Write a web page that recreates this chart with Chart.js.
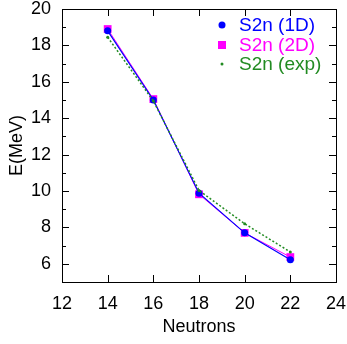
<!DOCTYPE html>
<html lang="en">
<head>
<meta charset="UTF-8">
<title>S2n vs Neutrons</title>
<script src="https://cdn.jsdelivr.net/npm/chart.js"></script>
<style>
  html, body { margin: 0; padding: 0; background: #fff; }
  #wrap { width: 347px; height: 344px; }
</style>
</head>
<body>
<div id="wrap"><canvas id="c"></canvas></div>
<script>
// data
const neutrons = [14, 16, 18, 20, 22];
const s2n1D = [18.8, 15.0, 9.88, 7.7, 6.22];
const s2n2D = [18.9, 15.05, 9.82, 7.7, 6.37];
const s2nExp = [18.45, 14.95, 10.03, 8.2, 6.65];
const seriesNames = ['S2n (1D)', 'S2n (2D)', 'S2n (exp)'];
const seriesColors = ['#0000ff', '#ff00ff', '#228b22'];

const FONT = 'Liberation Sans, Arial, sans-serif';
const FS = 18;

function pts(ys) {
  return neutrons.map((x, i) => ({ x: x, y: ys[i] }));
}

// gnuplot-like frame with ticks pointing inward
const framePlugin = {
  id: 'frame',
  afterDraw(chart) {
    const ctx = chart.ctx;
    const a = chart.chartArea;
    const xs = chart.scales.x, ys = chart.scales.y;
    ctx.save();
    ctx.strokeStyle = '#000';
    ctx.lineWidth = 1;
    ctx.strokeRect(a.left + 0.5, a.top + 0.5, a.right - a.left, a.bottom - a.top);
    ctx.beginPath();
    xs.ticks.forEach(t => {
      const px = Math.round(xs.getPixelForValue(t.value)) + 0.5;
      ctx.moveTo(px, a.bottom); ctx.lineTo(px, a.bottom - 7);
      ctx.moveTo(px, a.top); ctx.lineTo(px, a.top + 7);
    });
    ys.ticks.forEach(t => {
      const len = t.value % 2 === 0 ? 7 : 4;
      const py = Math.round(ys.getPixelForValue(t.value)) + 0.5;
      ctx.moveTo(a.left, py); ctx.lineTo(a.left + len, py);
      ctx.moveTo(a.right, py); ctx.lineTo(a.right - len, py);
    });
    ctx.stroke();

    // legend inside the plot, top right
    ctx.font = '19px ' + FONT;
    ctx.textBaseline = 'middle';
    const lx = 222, tx = 239, ly = [25, 45, 64];
    seriesNames.forEach((name, i) => {
      ctx.fillStyle = seriesColors[i];
      if (i === 0) {
        ctx.beginPath(); ctx.arc(lx, ly[i], 3.5, 0, Math.PI * 2); ctx.fill();
      } else if (i === 1) {
        ctx.fillRect(lx - 4, ly[i] - 4, 8, 8);
      } else {
        ctx.beginPath(); ctx.arc(lx, ly[i], 1.5, 0, Math.PI * 2); ctx.fill();
      }
      ctx.fillText(name, tx, ly[i] + 1);
    });
    ctx.restore();
  }
};

new Chart(document.getElementById('c'), {
  type: 'scatter',
  data: {
    datasets: [
      {
        label: seriesNames[2], data: pts(s2nExp), showLine: true,
        borderColor: seriesColors[2], backgroundColor: seriesColors[2],
        borderWidth: 1.5, borderDash: [2, 2], pointRadius: 1.5, pointBorderWidth: 0
      },
      {
        label: seriesNames[0], data: pts(s2n1D), showLine: true,
        borderColor: seriesColors[0], backgroundColor: seriesColors[0],
        borderWidth: 1.2, pointRadius: 3.5, pointBorderWidth: 0
      },
      {
        label: seriesNames[1], data: pts(s2n2D), showLine: true,
        borderColor: seriesColors[1], backgroundColor: seriesColors[1],
        borderWidth: 1, pointStyle: 'rect', pointRadius: 5.5, pointBorderWidth: 0
      }
    ]
  },
  options: {
    responsive: true,
    maintainAspectRatio: false,
    animation: false,
    layout: { padding: { top: 9, right: 11, left: 0, bottom: 0 } },
    plugins: { legend: { display: false }, tooltip: { enabled: false } },
    scales: {
      x: {
        type: 'linear', min: 12, max: 24,
        grid: { display: false, drawTicks: false },
        border: { display: false },
        ticks: { stepSize: 2, padding: 11, color: '#000', font: { family: FONT, size: FS } },
        title: { display: true, text: 'Neutrons', color: '#000', font: { family: FONT, size: FS }, padding: { top: 0, bottom: 6 } },
        afterFit(s) { s.height = 62; s.paddingLeft = 0; s.paddingRight = 0; }
      },
      y: {
        type: 'linear', min: 5, max: 20,
        grid: { display: false, drawTicks: false },
        border: { display: false },
        ticks: {
          stepSize: 1, padding: 11, color: '#000', autoSkip: false,
          font: { family: FONT, size: FS },
          callback: v => (v % 2 === 0 ? v : '')
        },
        title: { display: true, text: 'E(MeV)', color: '#000', font: { family: FONT, size: FS }, padding: { top: 6, bottom: 2 } },
        afterFit(s) { s.width = 62; s.paddingTop = 0; s.paddingBottom = 0; }
      }
    }
  },
  plugins: [framePlugin]
});
</script>
</body>
</html>
